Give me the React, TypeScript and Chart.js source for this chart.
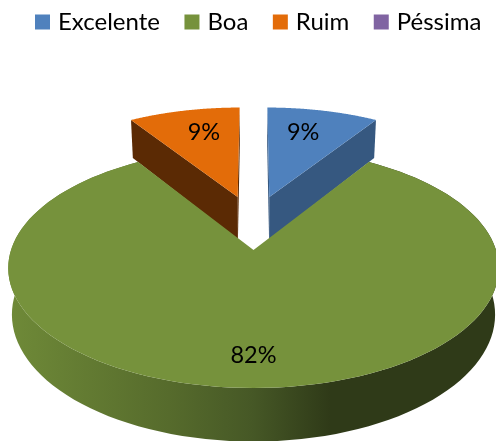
import React, { useEffect, useRef } from "react";
import { Chart, registerables } from "chart.js";

Chart.register(...registerables);

const categories = ["Excelente", "Boa", "Ruim", "Péssima"];
const shares = [9, 82, 9, 0];
const colours = ["#4F81BD", "#76923C", "#E36C09", "#8064A2"];
const sideColours = ["#365880", "#2F3A18", "#5B2A04", "#4D3C61"];
const explodeU = [0.07, 0, -0.07, 0];
const explodeV = [0.485, 0, 0.485, 0];

// Projection of the pie's plane (perspective view of a tilted disc)
const CX = 253.5;
const APEX_Y = 250;
const TILT = -79.8;
const PERSP = 0.15;
const SCALE_X = 242.5;
const DEPTH = 45.5;
const BASE_SHRINK = 0.985;
const LABEL_X_FACTOR = 0.85;

type P = [number, number];
const top = (u: number, v: number): P => {
  const w = 1 + PERSP * v;
  return [CX + (SCALE_X * u) / w, (APEX_Y + TILT * v) / w];
};
const base = (u: number, v: number): P => {
  const w = 1 + PERSP * v;
  const [x, y] = top(u, v);
  return [CX + (x - CX) * BASE_SHRINK, y + DEPTH / w];
};

const pie3d = {
  id: "pie3d",
  beforeDatasetsDraw(chart: any) {
    const { ctx } = chart;
    const arcs = chart.getDatasetMeta(0).data;
    const poly = (pts: P[], fill: any) => {
      ctx.beginPath();
      pts.forEach((p, i) => (i ? ctx.lineTo(p[0], p[1]) : ctx.moveTo(p[0], p[1])));
      ctx.closePath();
      ctx.fillStyle = fill;
      ctx.fill();
    };
    const rim = (i: number, a0: number, a1: number, f: (u: number, v: number) => P) => {
      const pts: P[] = [];
      const n = 120;
      for (let k = 0; k <= n; k++) {
        const a = a0 + ((a1 - a0) * k) / n;
        pts.push(f(explodeU[i] + Math.cos(a), explodeV[i] - Math.sin(a)));
      }
      return pts;
    };
    const order = [0, 2, 1];
    ctx.save();
    order.forEach((i) => {
      const arc = arcs[i];
      const { startAngle: a0, endAngle: a1 } = arc;
      if (a1 - a0 <= 0) return;
      const eu = explodeU[i];
      const ev = explodeV[i];
      const rimTop = rim(i, a0, a1, top);
      const rimBase = rim(i, a0, a1, base);
      if (i === 1) {
        const g = ctx.createLinearGradient(8, 0, 496, 0);
        g.addColorStop(0, "#6F8A38");
        g.addColorStop(0.33, "#566B2C");
        g.addColorStop(0.5, "#465826");
        g.addColorStop(0.66, "#2F3A18");
        g.addColorStop(1, "#2F3A18");
        poly([...rimTop, ...rimBase.slice().reverse()], g);
      } else {
        const side = sideColours[i];
        poly([top(eu, ev), base(eu, ev), rimBase[0], rimTop[0]], side);
        const n = rimTop.length - 1;
        poly([top(eu, ev), base(eu, ev), rimBase[n], rimTop[n]], side);
      }
      poly([top(eu, ev), ...rimTop], arc.options.backgroundColor);
    });
    ctx.fillStyle = "#000";
    ctx.font = "23.5px Lato";
    ctx.textAlign = "center";
    ctx.textBaseline = "middle";
    order.forEach((i) => {
      const arc = arcs[i];
      const mid = (arc.startAngle + arc.endAngle) / 2;
      const r = shares[i] > 50 ? 0.79 : 0.72;
      const [x, y] = top(
        explodeU[i] + LABEL_X_FACTOR * r * Math.cos(mid),
        explodeV[i] - r * Math.sin(mid)
      );
      ctx.fillText(`${shares[i]}%`, x, y);
    });
    ctx.restore();
    return false;
  },
};

export default function App() {
  const ref = useRef<HTMLCanvasElement>(null);
  useEffect(() => {
    const chart = new Chart(ref.current!, {
      type: "pie",
      data: {
        labels: categories,
        datasets: [{ data: shares, backgroundColor: colours, borderWidth: 0 }],
      },
      options: {
        animation: false,
        responsive: false,
        devicePixelRatio: 1,
        layout: { padding: { left: 10.5, top: -18.5, right: -40 } },
        plugins: {
          tooltip: { enabled: false },
          legend: {
            position: "top",
            align: "start",
            labels: {
              boxWidth: 7,
              boxHeight: 7,
              padding: 28.5,
              color: "#000",
              font: { family: "Lato", size: 24 },
              generateLabels: () =>
                categories.map((text, i) => ({
                  text,
                  index: i,
                  fillStyle: colours[i],
                  strokeStyle: colours[i],
                  fontColor: "#000",
                  lineWidth: 8,
                  hidden: false,
                })),
            },
          },
        },
      },
      plugins: [pie3d],
    } as any);
    return () => chart.destroy();
  }, []);
  return (
    <div style={{ position: "absolute", left: 0, top: 0, width: 496, height: 441 }}>
      <canvas ref={ref} width={496} height={441} style={{ display: "block" }} />
    </div>
  );
}
